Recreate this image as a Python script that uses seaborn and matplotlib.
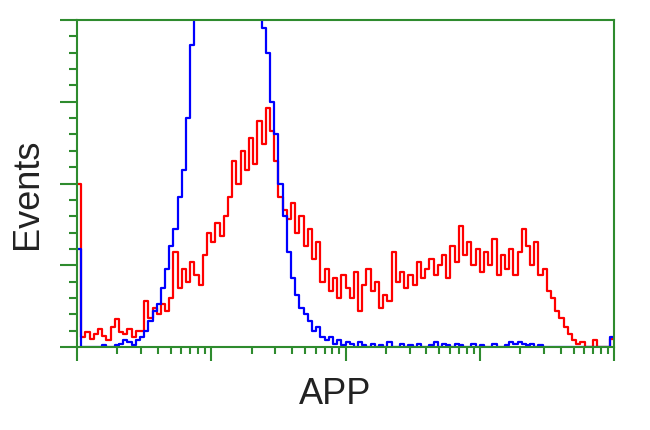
import matplotlib
matplotlib.use("Agg")
import matplotlib.pyplot as plt
import seaborn as sns
import pandas as pd
import numpy as np

GREEN = "#2e8b2e"

# histogram channels (0..1023), 8 channels per bin
bin_centers = np.arange(4, 1024, 8)

red_counts = [
    100, 6, 9, 5, 8, 11, 7, 4, 12, 17, 9, 8, 11, 6, 10, 10,
    28, 18, 24, 20, 26, 22, 30, 58, 36, 48, 40, 52, 44, 38, 56, 70,
    64, 76, 68, 80, 92, 114, 100, 120, 108, 128, 112, 138, 124, 146, 132, 114,
    92, 84, 78, 88, 70, 80, 62, 72, 54, 64, 40, 48, 34, 42, 30, 44,
    36, 30, 46, 22, 38, 48, 34, 40, 24, 32, 28, 58, 40, 46, 36, 44,
    38, 52, 42, 48, 54, 44, 50, 56, 42, 62, 52, 74, 56, 64, 50, 60,
    46, 58, 50, 66, 44, 56, 48, 60, 44, 58, 72, 62, 50, 64, 44, 48,
    34, 30, 22, 18, 12, 8, 4, 2, 3, 0, 0, 4, 0, 0, 0, 5,
]

blue_counts = [
    60, 0, 0, 0, 0, 0, 1, 0, 0, 1, 2, 4, 3, 1, 4, 6,
    10, 16, 22, 26, 36, 48, 62, 72, 92, 108, 140, 185, 225, 250, 270, 285,
    298, 306, 310, 308, 300, 290, 278, 265, 255, 248, 240, 230, 195, 180, 150, 130,
    100, 80, 58, 42, 32, 24, 20, 16, 10, 12, 6, 4, 6, 2, 4, 1,
    3, 2, 0, 3, 1, 0, 2, 0, 1, 0, 3, 0, 0, 2, 0, 1,
    0, 2, 0, 0, 1, 3, 0, 2, 1, 0, 2, 1, 0, 0, 2, 0,
    1, 0, 0, 2, 0, 0, 1, 3, 2, 3, 2, 1, 2, 0, 1, 0,
    0, 0, 0, 0, 0, 0, 0, 0, 0, 0, 0, 0, 0, 0, 0, 6,
]

x_label = "APP"
y_label = "Events"

df = pd.DataFrame({"channel": bin_centers, "red": red_counts, "blue": blue_counts})

sns.set_style("white")
plt.rcParams["font.family"] = ["Liberation Sans", "DejaVu Sans"]

fig = plt.figure(figsize=(6.5, 4.31), dpi=100)
ax = fig.add_axes([77 / 650, 83 / 431, 537 / 650, 327 / 431])

sns.histplot(data=df, x="channel", weights="red", binwidth=8, binrange=(0, 1024),
             element="step", fill=False, color="#ff0000", lw=1.6, ax=ax)
sns.histplot(data=df, x="channel", weights="blue", binwidth=8, binrange=(0, 1024),
             element="step", fill=False, color="#0000ff", lw=1.6, ax=ax)

ax.set_xlim(0, 1024)
ax.set_ylim(0, 200)

# log-decade ticks on the channel axis
major_x = [256 * d for d in range(5)]
minor_x = [256 * (d + np.log10(k)) for d in range(4) for k in range(2, 10)]
ax.set_xticks(major_x)
ax.set_xticks(minor_x, minor=True)
ax.set_yticks(np.arange(0, 201, 50))
ax.set_yticks(np.arange(0, 201, 10), minor=True)
ax.set_xticklabels([])
ax.set_yticklabels([])
ax.tick_params(axis="both", which="both", direction="out", color=GREEN, width=1.5,
               bottom=True, left=True, top=False, right=False)
ax.tick_params(axis="y", which="major", length=12)
ax.tick_params(axis="y", which="minor", length=6)
ax.tick_params(axis="x", which="major", length=10)
ax.tick_params(axis="x", which="minor", length=5)

for s in ax.spines.values():
    s.set_color(GREEN)
    s.set_linewidth(1.5)

ax.set_xlabel(x_label, fontsize=26, color="#222222")
ax.set_ylabel(y_label, fontsize=26, color="#222222")
ax.xaxis.set_label_coords(0.48, -0.09)
ax.yaxis.set_label_coords(-0.06, 0.47)

fig.savefig("out.png", dpi=100, facecolor="w")
